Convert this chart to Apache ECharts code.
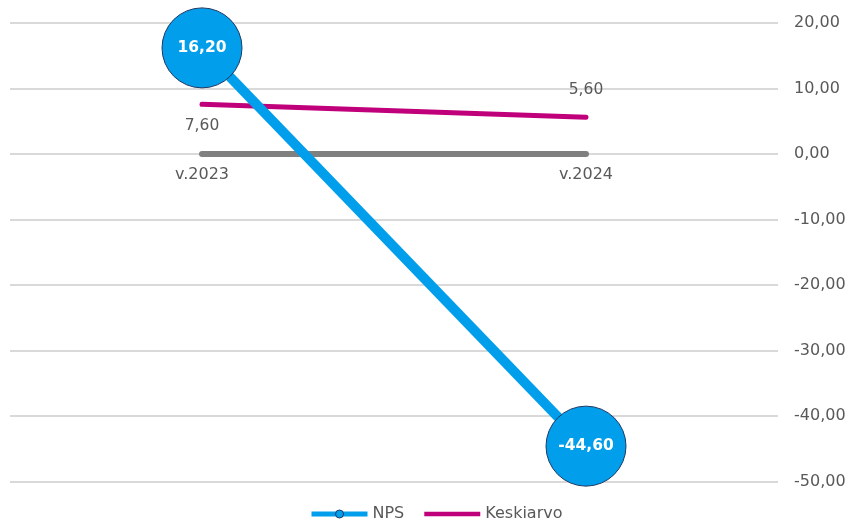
<!DOCTYPE html>
<html><head><meta charset="utf-8">
<script src="https://cdn.jsdelivr.net/npm/echarts@6/dist/echarts.min.js"></script>
<style>html,body{margin:0;padding:0;background:#fff}#c{width:849px;height:522px}</style>
</head><body><div id="c"></div>
<script>
const categories = ['v.2023', 'v.2024'];
const npsValues = [16.2, -44.6];
const keskiarvoValues = [7.6, 5.6];
const baselineValues = [0, 0];
const yTicks = { min: -50, max: 20, interval: 10 };

const FONT = 'DejaVu Sans';
const fmt = v => Number(v).toFixed(2).replace('.', ',');
const chart = echarts.init(document.getElementById('c'));
chart.setOption({
  animation: false,
  textStyle: { fontFamily: FONT },
  grid: { left: 10, right: 71, top: 23, bottom: 40.5 },
  legend: {
    data: [
      { name: 'NPS', lineStyle: { width: 5 },
        itemStyle: { color: '#009EEB', borderColor: '#1F3864', borderWidth: 1 } },
      { name: 'Keskiarvo', icon: 'path://M0,0L56,0L56,4.5L0,4.5Z' }
    ],
    top: 501, left: 304,
    itemWidth: 56, itemHeight: 10, itemGap: 20,
    textStyle: { color: '#595959', fontSize: 16, fontFamily: FONT }
  },
  xAxis: {
    type: 'category', data: categories, boundaryGap: true,
    axisLine: { show: false }, axisTick: { show: false },
    axisLabel: { show: false }
  },
  yAxis: {
    type: 'value', position: 'right', min: yTicks.min, max: yTicks.max, interval: yTicks.interval,
    axisLine: { show: false }, axisTick: { show: false },
    axisLabel: { color: '#595959', fontSize: 16, margin: 16, formatter: fmt, fontFamily: FONT },
    splitLine: { lineStyle: { color: '#d9d9d9', width: 2 } }
  },
  series: [
    {
      name: 'Baseline', type: 'line', data: baselineValues, symbol: 'circle', symbolSize: 1,
      itemStyle: { color: 'rgba(128,128,128,0)' },
      lineStyle: { color: '#808080', width: 6, cap: 'round' }, z: 1, silent: true,
      label: {
        show: true, position: 'bottom', distance: 12.5, color: '#595959', fontSize: 16,
        fontFamily: FONT, formatter: p => p.name
      }
    },
    {
      name: 'Keskiarvo', type: 'line', symbol: 'circle', symbolSize: 1,
      itemStyle: { color: '#C0007A' },
      lineStyle: { color: '#C0007A', width: 5, cap: 'round' }, z: 2,
      label: {
        show: true, color: '#595959', fontSize: 15.5, fontFamily: FONT, formatter: p => fmt(p.value)
      },
      data: [
        { value: keskiarvoValues[0], label: { position: 'bottom', distance: 13 } },
        { value: keskiarvoValues[1], label: { position: 'top', distance: 19 } }
      ]
    },
    {
      name: 'NPS', type: 'line', data: npsValues, symbol: 'circle', symbolSize: 80,
      itemStyle: { color: '#009EEB', borderColor: '#1F3864', borderWidth: 1 },
      lineStyle: { color: '#009EEB', width: 10 }, z: 3,
      label: {
        show: true, position: 'inside', color: '#ffffff', fontWeight: 'bold', fontSize: 15.5,
        fontFamily: FONT, formatter: p => fmt(p.value)
      }
    }
  ]
});
</script></body></html>
